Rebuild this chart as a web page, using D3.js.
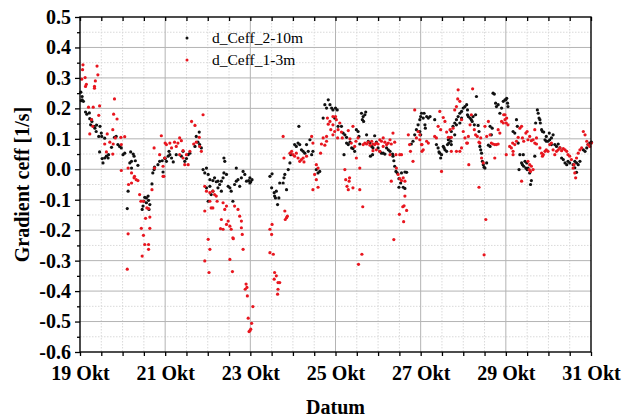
<!DOCTYPE html>
<html>
<head>
<meta charset="utf-8">
<script src="https://cdn.jsdelivr.net/npm/d3@7"></script>
<style>
  html, body { margin: 0; padding: 0; background: #fff; }
  svg { display: block; }
</style>
</head>
<body>
<svg id="chart" width="625" height="419"></svg>
<script>
// ---------- data (day of October, gradient ceff [1/s]) ----------
const seriesNames = ["d_Ceff_2-10m", "d_Ceff_1-3m"];
const xTickDays = [19, 21, 23, 25, 27, 29, 31];
const xTickLabels = ["19 Okt", "21 Okt", "23 Okt", "25 Okt", "27 Okt", "29 Okt", "31 Okt"];
const yTickValues = [-0.6, -0.5, -0.4, -0.3, -0.2, -0.1, 0.0, 0.1, 0.2, 0.3, 0.4, 0.5];

const ceff2_10m = [
[19.02,0.253],[19.05,0.239],[19.05,0.228],[19.08,0.223],[19.03,0.225],[19.13,0.188],[19.16,0.181],[19.23,0.166],[19.28,0.157],[19.25,0.146],[19.33,0.141],[19.38,0.124],[19.44,0.108],[19.50,0.119],[19.46,0.057],[19.52,0.035],[19.54,0.021],[19.58,0.037],[19.62,0.043],[19.66,0.037],[19.67,0.048],[19.74,0.072],[19.81,0.105],[19.85,0.108],[19.89,0.081],[19.93,0.075],[19.97,0.070],[20.01,0.048],[20.05,0.053],[20.19,0.057],[20.25,0.050],[20.27,0.043],[20.21,0.026],[20.17,0.021],[20.30,0.028],[20.36,0.013],[20.21,0.004],[20.13,-0.072],[20.11,-0.129],[20.52,-0.092],[20.56,-0.094],[20.60,-0.088],[20.48,-0.121],[20.46,-0.132],[20.64,-0.116],[20.69,-0.048],[20.74,-0.001],[20.83,0.015],[20.87,0.026],[20.93,0.028],[21.00,0.035],[20.71,-0.012],[20.75,0.007],[20.56,-0.110],[20.50,-0.105],[20.61,-0.102],[20.62,-0.132],
[19.22,0.185],[19.27,0.163],[19.35,0.135],[19.39,0.145],[19.47,0.141],[19.51,0.108],[19.58,0.102],
[20.95,-0.009],[20.99,0.037],[21.03,0.026],[21.07,0.043],[21.11,0.048],[21.15,0.037],[21.19,0.024],[21.09,0.059],[21.26,0.048],[21.38,0.043],[21.46,0.026],[21.50,0.035],[21.54,0.048],[21.58,0.053],[21.42,0.059],[21.73,0.108],[21.80,0.122],[21.77,0.089],[21.81,0.081],[21.85,0.070],[21.70,0.075],[21.89,-0.001],[21.93,-0.012],[21.97,0.004],[22.01,-0.017],[22.05,-0.034],[22.12,-0.037],[22.16,-0.028],[22.20,-0.041],[22.24,-0.039],[22.28,-0.050],[22.32,-0.039],[22.36,-0.028],[22.38,0.037],[22.40,0.026],[22.44,-0.017],[22.48,-0.056],[22.52,-0.061],[22.55,-0.072],[22.59,-0.105],[22.63,-0.050],[22.67,-0.039],[22.71,-0.034],[22.75,-0.056],[22.79,-0.028],[22.83,-0.007],[22.87,-0.017],[22.91,-0.039],[22.99,-0.045],[22.12,-0.072],[22.08,-0.083],[22.01,-0.105],[22.32,-0.072],[22.38,-0.012],[22.67,0.004],[22.24,-0.061],[21.97,-0.061],[22.05,-0.056],
[22.96,-0.037],[23.01,-0.041],[23.04,-0.034],[22.99,-0.028],[23.46,-0.023],[23.51,-0.015],[23.50,-0.061],[23.56,-0.077],[23.57,-0.088],[23.61,-0.072],[23.59,-0.094],[23.67,-0.094],[23.64,-0.116],[23.69,-0.045],[23.77,-0.045],[23.79,-0.028],[23.81,-0.017],[23.85,-0.067],[23.89,-0.001],[23.93,0.021],[23.95,0.048],[24.04,0.081],[24.08,0.075],[24.12,0.086],[24.16,0.081],[24.14,0.141],[24.20,0.064],[24.24,0.059],[24.28,0.053],[24.32,0.081],[24.36,0.059],[24.40,0.097],[24.44,0.048],[24.47,0.059],[24.55,-0.001],[24.59,-0.012],[24.63,-0.007],[24.71,0.168],[24.79,0.201],[24.83,0.228],[24.87,0.212],[24.91,0.201],[24.94,0.195],[25.00,0.201],[24.75,0.212],
[25.04,0.195],[24.98,0.168],[25.06,0.141],[25.14,0.141],[25.18,0.119],[25.22,0.113],[25.26,0.105],[25.30,0.081],[25.34,0.089],[25.38,0.070],[25.41,0.068],[25.45,0.059],[25.26,0.086],[25.20,0.048],[25.49,0.130],[25.53,0.124],[25.55,0.108],[25.57,0.083],[25.61,0.184],[25.65,0.173],[25.69,0.179],[25.71,0.188],[25.63,0.163],[25.66,0.157],[25.73,0.113],[25.77,0.092],[25.81,0.086],[25.85,0.075],[25.88,0.070],[25.92,0.110],[25.96,0.089],[26.00,0.070],[26.04,0.059],[26.08,0.053],[26.12,0.053],[26.16,0.050],[25.82,0.043],[25.87,0.048],[26.20,0.070],[26.24,0.064],[26.28,0.059],[26.34,0.050],[26.35,0.043],[26.37,0.028],[26.39,0.010],[26.42,-0.007],[26.45,-0.012],[26.49,-0.031],[26.53,-0.045],[26.55,-0.012],[26.63,-0.009],[26.67,-0.010],[26.59,-0.059],[26.63,-0.063],[26.49,-0.059],[26.90,0.130],[26.94,0.146],[26.98,0.163],[27.00,0.173],[26.86,0.113],[26.82,0.092],[26.78,0.083],
[27.02,0.184],[27.06,0.168],[27.10,0.146],[27.11,0.135],[27.08,0.184],[27.14,0.173],[27.18,0.168],[27.22,0.173],[26.98,0.124],[27.00,0.113],[27.37,0.081],[27.41,0.070],[27.43,0.057],[27.45,0.053],[27.49,0.048],[27.47,0.037],[27.53,0.075],[27.55,0.070],[27.57,0.064],[27.61,0.059],[27.63,0.081],[27.65,0.097],[27.69,0.103],[27.71,0.092],[27.72,0.124],[27.76,0.141],[27.80,0.152],[27.84,0.163],[27.88,0.173],[27.92,0.184],[27.96,0.190],[28.00,0.201],[28.04,0.206],[28.08,0.212],[28.10,0.195],[28.12,0.173],[28.16,0.168],[28.19,0.163],[28.21,0.157],[28.23,0.173],[28.26,0.146],[28.29,0.179],[28.31,0.239],[28.35,0.144],[28.37,0.124],[28.39,0.075],[28.41,0.064],[28.43,0.053],[28.45,0.026],[28.47,0.015],[28.49,0.007],[28.51,0.004],[28.55,0.021],[28.59,0.079],[28.63,0.075],[28.66,0.113],[28.70,0.250],[28.73,0.247],[28.76,0.217],[28.78,0.206],[28.82,0.212],[28.86,0.184],[28.90,0.201],[28.94,0.223],[28.98,0.228],[29.02,0.233],[29.04,0.217],[28.63,0.141],[28.68,0.135],[28.10,0.179],[27.80,0.113],[27.84,0.146],[27.92,0.152],[27.96,0.168],[27.72,0.081],[27.66,0.086],[27.33,0.163],
[29.00,0.228],[29.05,0.206],[29.17,0.124],[29.21,0.119],[29.25,0.163],[29.27,0.141],[29.29,0.086],[29.33,0.048],[29.37,0.021],[29.39,0.015],[29.42,0.010],[29.47,0.004],[29.50,-0.001],[29.52,0.004],[29.49,0.021],[29.45,0.026],[29.31,-0.001],[29.41,0.048],[29.56,-0.012],[29.60,-0.037],[29.58,-0.050],[29.68,0.043],[29.70,0.152],[29.74,0.195],[29.76,0.184],[29.78,0.168],[29.80,0.163],[29.81,0.152],[29.84,0.130],[29.86,0.124],[29.89,0.122],[29.92,0.097],[29.95,0.092],[29.99,0.092],[30.03,0.097],[30.07,0.103],[30.11,0.113],[30.15,0.081],[30.19,0.075],[30.23,0.083],[30.27,0.070],[30.31,0.037],[30.35,0.032],[30.39,0.021],[30.43,0.015],[30.46,0.026],[30.50,0.021],[30.58,0.015],[30.62,0.026],[30.66,0.021],[30.70,0.015],[30.74,0.026],[30.82,0.064],[30.86,0.059],[30.90,0.070],[30.93,0.081],[30.97,0.086],[31.01,0.089],[29.95,0.108],[30.02,0.119],[30.07,0.081],[30.62,0.005],[30.66,-0.010]
];

const ceff1_3m = [
[19.07,0.343],[19.06,0.327],[19.40,0.339],[19.42,0.310],[19.12,0.301],[19.04,0.296],[19.15,0.279],[19.13,0.272],[19.36,0.290],[19.34,0.272],[19.34,0.266],[19.81,0.231],[19.20,0.204],[19.31,0.204],[19.46,0.208],[19.79,0.181],[19.87,0.165],[19.44,0.177],[19.27,0.163],[19.23,0.116],[19.30,0.141],[19.77,0.130],[19.64,0.116],[19.58,0.083],[19.70,0.089],[19.62,0.057],[19.78,0.083],[19.83,0.103],[19.96,0.105],[20.05,0.107],[19.97,0.081],[19.77,0.050],[19.97,-0.004],[20.13,0.004],[20.21,-0.012],[20.21,-0.045],[20.27,-0.028],[20.32,-0.034],[20.36,-0.037],[20.28,-0.023],[20.14,-0.050],[20.40,-0.083],[20.43,-0.105],[20.49,-0.105],[20.57,-0.127],[20.61,-0.129],[20.64,-0.157],[20.54,-0.161],[20.44,-0.194],[20.64,-0.194],[20.49,-0.217],[20.13,-0.212],[20.52,-0.247],[20.61,-0.247],[20.61,-0.263],[20.46,-0.285],[20.11,-0.328],[20.69,-0.067],[20.91,0.110],[21.00,0.086],[20.74,0.070],[20.87,0.048],[20.99,0.037],[20.95,0.010],[20.97,-0.023],[20.75,0.004],
[21.62,0.157],[21.70,0.144],[21.89,0.179],[21.80,0.105],[21.73,0.089],[21.81,0.075],[21.85,0.059],[21.67,0.083],[21.58,0.059],[21.50,0.048],[21.46,0.015],[21.54,0.015],[21.42,0.037],[21.34,0.048],[21.30,0.086],[21.22,0.089],[21.26,0.075],[21.11,0.086],[21.03,0.081],[21.15,0.070],[21.34,0.103],[21.38,0.094],[21.42,0.061],[20.95,-0.023],[21.93,-0.056],[21.97,-0.072],[22.05,-0.077],[22.12,-0.072],[22.16,-0.083],[22.20,-0.088],[22.22,-0.105],[22.12,-0.127],[22.08,-0.127],[21.93,-0.137],[22.05,-0.105],[22.36,-0.110],[22.44,-0.121],[22.40,-0.132],[22.63,-0.121],[22.71,-0.132],[22.48,-0.170],[22.32,-0.165],[22.44,-0.181],[22.52,-0.187],[22.55,-0.197],[22.59,-0.225],[22.36,-0.197],[22.79,-0.192],[22.81,-0.214],[22.79,-0.170],[22.75,-0.154],[22.01,-0.230],[22.05,-0.263],[21.93,-0.301],[22.03,-0.339],[22.52,-0.296],[22.58,-0.336],[22.83,-0.263],[22.30,-0.195],[22.60,-0.228],
[22.88,-0.394],[22.90,-0.377],[22.92,-0.388],[22.93,-0.416],[22.95,-0.489],[22.97,-0.533],[22.99,-0.530],[23.01,-0.525],[23.03,-0.506],[23.06,-0.451],
[23.77,0.108],[23.79,0.037],[23.93,0.053],[23.97,0.059],[24.00,0.048],[24.04,0.043],[24.08,0.053],[24.12,0.037],[24.16,0.026],[24.20,0.032],[24.24,0.037],[24.26,0.024],[24.32,0.043],[24.44,0.108],[24.47,0.086],[24.55,0.015],[24.59,0.004],[24.51,-0.017],[24.55,-0.034],[24.47,-0.067],[24.59,-0.059],[24.65,0.053],[24.67,0.083],[24.71,0.103],[24.75,0.079],[24.79,0.108],[24.79,0.092],[24.81,0.168],[24.83,0.148],[24.87,0.157],[24.89,0.130],[24.94,0.146],[24.98,0.124],[25.00,0.173],[25.05,0.103],[23.81,-0.137],[23.85,-0.159],[23.87,-0.154],[23.82,-0.165],[23.46,-0.197],[23.50,-0.214],[23.51,-0.181],[23.46,-0.274],[23.54,-0.279],[23.57,-0.339],[23.61,-0.350],[23.56,-0.361],[23.65,-0.372],[23.69,-0.372],[23.65,-0.394],[23.64,-0.410],
[24.94,0.173],[25.02,0.163],[25.06,0.130],[24.94,0.113],[25.10,0.152],[25.14,0.122],[25.16,0.103],[25.30,0.127],[25.34,0.100],[25.41,0.141],[25.48,0.092],[25.53,0.103],[25.49,0.037],[25.57,0.004],[25.37,0.086],[25.45,0.075],[25.22,-0.001],[25.24,-0.034],[25.27,-0.056],[25.30,-0.067],[25.32,-0.039],[25.41,-0.061],[25.57,-0.067],[25.33,-0.028],[25.65,0.081],[25.69,0.086],[25.73,0.083],[25.77,0.089],[25.81,0.079],[25.85,0.092],[25.88,0.083],[25.92,0.081],[25.96,0.086],[26.00,0.083],[26.04,0.097],[26.08,0.092],[26.12,0.103],[26.16,0.089],[26.20,0.081],[26.24,0.086],[26.28,0.097],[26.31,0.083],[26.35,0.119],[26.39,0.089],[25.96,0.064],[25.88,0.061],[26.04,0.059],[26.12,0.075],[26.28,0.048],[26.31,-0.039],[26.43,0.004],[26.47,-0.017],[26.51,-0.031],[26.55,-0.037],[26.59,-0.028],[26.63,-0.039],[26.42,0.048],[26.51,0.048],[26.55,0.048],[26.63,-0.088],[26.74,0.081],[26.71,0.113],[26.76,0.059],[26.82,0.026],[26.86,0.195],[26.90,0.103],[26.94,0.124],[26.98,0.113],[27.02,0.081],
[25.64,-0.123],[25.62,-0.279],[25.54,-0.312],[26.37,-0.231],[26.50,-0.148],[26.58,-0.123],[26.61,-0.120],[26.67,-0.135],[26.60,-0.172],[28.53,-0.165],[28.49,-0.281],
[26.98,0.097],[27.03,0.081],[27.06,0.064],[27.03,0.059],[27.14,0.092],[27.18,0.086],[27.33,0.108],[27.37,0.103],[27.41,0.141],[27.45,0.190],[27.47,0.130],[27.53,0.170],[27.57,0.157],[27.61,0.122],[27.65,0.105],[27.69,0.130],[27.72,0.105],[27.76,0.135],[27.80,0.195],[27.84,0.206],[27.87,0.231],[27.88,0.261],[27.92,0.223],[27.96,0.163],[28.00,0.124],[28.04,0.103],[28.08,0.086],[28.10,0.086],[28.12,0.108],[28.16,0.146],[28.19,0.179],[28.22,0.264],[28.26,0.130],[28.29,0.113],[28.33,0.108],[28.37,0.089],[28.39,0.086],[28.41,0.103],[28.43,0.037],[28.47,0.021],[28.51,0.141],[28.55,0.108],[28.59,0.157],[28.63,0.113],[28.66,0.086],[28.70,0.083],[28.74,0.081],[28.78,0.081],[28.82,0.083],[28.86,0.119],[28.90,0.157],[28.94,0.152],[28.98,0.179],[29.02,0.168],[27.96,0.070],[28.13,0.015],[27.49,-0.007],[27.72,0.059],[27.84,0.059],[27.92,0.059],[28.37,-0.059],[28.74,0.037],[28.82,0.130],
[28.95,0.179],[28.98,0.163],[29.01,0.152],[29.05,0.146],[29.09,0.075],[29.13,0.070],[29.16,0.086],[29.17,0.048],[29.21,0.081],[29.25,0.092],[29.29,0.105],[29.33,0.135],[29.37,0.141],[29.39,0.103],[29.42,0.092],[29.47,0.119],[29.50,0.124],[29.52,0.097],[29.56,0.108],[29.60,0.094],[29.64,0.097],[29.68,0.086],[29.72,0.083],[29.68,0.130],[29.72,0.103],[29.80,0.070],[29.84,0.053],[29.86,0.043],[29.88,0.048],[29.92,0.059],[29.95,0.064],[29.99,0.059],[30.03,0.081],[30.07,0.086],[30.11,0.064],[30.15,0.048],[30.19,0.059],[30.23,0.064],[30.27,0.070],[30.31,0.061],[30.35,0.068],[30.39,0.064],[30.43,0.059],[30.46,0.048],[30.50,0.043],[30.54,0.032],[30.58,0.004],[30.62,-0.012],[30.64,-0.028],[30.60,0.015],[30.66,0.037],[30.70,0.053],[30.74,0.064],[30.78,0.070],[30.82,0.124],[30.86,0.113],[30.90,0.092],[30.93,0.081],[30.97,0.075],[31.01,0.086],[29.37,-0.039],[29.52,0.026],[29.56,0.015],[29.60,0.010],[29.64,-0.001],[29.58,-0.007],[29.55,-0.001],[29.17,0.059],[29.01,0.048]
];

// ---------- layout ----------
const svg = d3.select("#chart");
const W = 625, H = 419;
const plot = { left: 80, right: 591, top: 17, bottom: 352 };
const FONT = "'Liberation Serif', 'Times New Roman', serif";
const colors = ["#111111", "#e8161f"];

svg.append("rect").attr("width", W).attr("height", H).attr("fill", "#fff");

const x = d3.scaleLinear().domain([19, 31]).range([plot.left, plot.right]);
const y = d3.scaleLinear().domain([-0.6, 0.5]).range([plot.bottom, plot.top]);

// grid
const xMinor = d3.range(19, 31.001, 0.5);
const xMinorOnly = xMinor.filter(d => !xTickDays.some(t => Math.abs(t - d) < 1e-6));
const yMinorAll = d3.range(-0.6, 0.5001, 0.05).map(d => +d.toFixed(2));
const yMinorOnly = yMinorAll.filter(d => !yTickValues.some(t => Math.abs(t - d) < 1e-6));

const grid = svg.append("g");
grid.selectAll(".vminor").data(xMinorOnly).join("line")
  .attr("x1", d => x(d)).attr("x2", d => x(d))
  .attr("y1", plot.top).attr("y2", plot.bottom)
  .attr("stroke", "#d9d9d9").attr("stroke-width", 1).attr("stroke-dasharray", "1.5,1.5");
grid.selectAll(".hminor").data(yMinorOnly).join("line")
  .attr("x1", plot.left).attr("x2", plot.right)
  .attr("y1", d => y(d)).attr("y2", d => y(d))
  .attr("stroke", "#d9d9d9").attr("stroke-width", 1).attr("stroke-dasharray", "1.5,1.5");
grid.selectAll(".vmajor").data(xTickDays.slice(1, -1)).join("line")
  .attr("x1", d => x(d)).attr("x2", d => x(d))
  .attr("y1", plot.top).attr("y2", plot.bottom)
  .attr("stroke", "#b4b4b4").attr("stroke-width", 1);
grid.selectAll(".hmajor").data(yTickValues.slice(1, -1)).join("line")
  .attr("x1", plot.left).attr("x2", plot.right)
  .attr("y1", d => y(d)).attr("y2", d => y(d))
  .attr("stroke", "#b4b4b4").attr("stroke-width", 1);

// points
const series = [ceff2_10m, ceff1_3m];
series.forEach((data, i) => {
  svg.append("g").selectAll("circle").data(data).join("circle")
    .attr("cx", d => x(d[0])).attr("cy", d => y(d[1]))
    .attr("r", 1.6).attr("fill", colors[i]);
});

// axes
svg.append("g").attr("transform", `translate(${plot.left},0)`)
  .call(d3.axisLeft(y).tickValues(yTickValues).tickSize(5).tickPadding(4)
    .tickFormat(d => d.toFixed(1)));
svg.append("g").attr("transform", `translate(${plot.left},0)`)
  .call(d3.axisLeft(y).tickValues(yMinorOnly).tickSize(3).tickFormat(""));
svg.append("g").attr("transform", `translate(0,${plot.bottom})`)
  .call(d3.axisBottom(x).tickValues(xTickDays).tickSize(4).tickPadding(10)
    .tickFormat((d, i) => xTickLabels[i]));
svg.append("g").attr("transform", `translate(0,${plot.bottom})`)
  .call(d3.axisBottom(x).tickValues(xMinorOnly).tickSize(4).tickFormat(""));
// top inward ticks
svg.append("g").attr("transform", `translate(0,${plot.top})`)
  .call(d3.axisBottom(x).tickValues(xMinor).tickSize(4).tickFormat(""));

svg.selectAll(".domain").remove();
svg.selectAll(".tick line").attr("stroke", "#000").attr("stroke-width", 1.3);
svg.selectAll(".tick text").attr("font-family", FONT).attr("font-size", 20)
  .attr("font-weight", "bold").attr("fill", "#000");

// frame
svg.append("rect").attr("x", plot.left).attr("y", plot.top)
  .attr("width", plot.right - plot.left).attr("height", plot.bottom - plot.top)
  .attr("fill", "none").attr("stroke", "#000").attr("stroke-width", 1.4);

// axis titles
svg.append("text").attr("x", (plot.left + plot.right) / 2).attr("y", 414)
  .attr("text-anchor", "middle").attr("font-family", FONT).attr("font-size", 20)
  .attr("font-weight", "bold").text("Datum");
svg.append("text").attr("transform", `translate(29,${(plot.top + plot.bottom) / 2}) rotate(-90)`)
  .attr("text-anchor", "middle").attr("font-family", FONT).attr("font-size", 20)
  .attr("font-weight", "bold").text("Gradient ceff [1/s]");

// legend
const leg = svg.append("g");
seriesNames.forEach((name, i) => {
  const ly = 38 + i * 22;
  leg.append("circle").attr("cx", 187).attr("cy", ly).attr("r", 1.5).attr("fill", colors[i]);
  leg.append("text").attr("x", 212).attr("y", ly + 5).attr("font-family", FONT)
    .attr("font-size", 15.5).attr("fill", "#000").text(name);
});
</script>
</body>
</html>
